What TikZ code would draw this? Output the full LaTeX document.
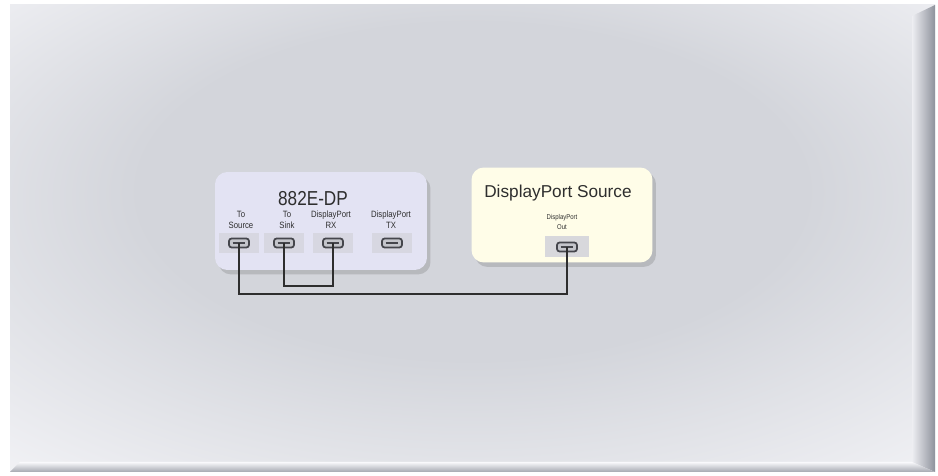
\documentclass[tikz,border=0pt]{standalone}
\usepackage{fontspec}
\setmainfont{Liberation Sans}
\newfontfamily\narrowsans[FakeStretch=0.85]{Liberation Sans}
\usetikzlibrary{positioning,shadows}
\definecolor{panelmid}{HTML}{D3D5DB}
\definecolor{paneledge}{HTML}{F9F9FC}
\definecolor{rimdark}{HTML}{8E929C}
\definecolor{lav}{HTML}{E3E3F3}
\definecolor{cream}{HTML}{FFFDE8}
\definecolor{bandlav}{HTML}{D7D7E1}
\definecolor{bandcream}{HTML}{D8D8DC}
\definecolor{portfill}{HTML}{C4C5CB}
\definecolor{portline}{HTML}{45464C}
\definecolor{ink}{HTML}{2E2E2E}
\colorlet{wirecol}{ink}
\pgfdeclareradialshading{panelglow}{\pgfpoint{0bp}{8bp}}{%
  color(0bp)=(panelmid); color(18bp)=(panelmid); color(42bp)=(paneledge); color(50bp)=(paneledge)}
\tikzset{
  devbox/.style={rounded corners=7pt,inner sep=0pt,
    drop shadow={shadow xshift=2pt,shadow yshift=-2.5pt,opacity=.25,fill=black!60}},
  lbl/.style={align=center,inner sep=0pt,text=ink,font=\narrowsans\fontsize{5.2}{6.2}\selectfont},
  port/.style={draw=portline,line width=1pt,fill=portfill,rounded corners=1.5pt,
    minimum width=0.4cm,minimum height=0.18cm,inner sep=0pt,
    path picture={\draw[portline,line width=1.2pt]
      ([xshift=2pt]path picture bounding box.west) --
      ([xshift=-2pt]path picture bounding box.east);}},
  wire/.style={wirecol,line width=0.75pt}
}
\begin{document}
\begin{tikzpicture}[x=0.02cm,y=-0.02cm]
    \useasboundingbox (0,0) rectangle (938,476);
    % backdrop panel with its rim
    \shade[shading=panelglow] (10,5) rectangle (935,472);
    \shade[left color=paneledge!70!panelmid,right color=rimdark]
      (912,16) -- (935,5) -- (935,472) -- (912,462) -- cycle;
    \shade[top color=paneledge,bottom color=rimdark!80]
      (10,472) -- (20,462) -- (912,462) -- (935,472) -- cycle;
    % the two devices
    \node[devbox,fill=lav,minimum width=4.24cm,minimum height=1.96cm] (dev) at (321,221) {};
    \node[devbox,fill=cream,minimum width=3.62cm,minimum height=1.9cm] (src) at (562,215) {};
    \node[text=ink,font=\narrowsans\fontsize{11.5}{13}\selectfont,inner sep=0pt] (devname) at (313,199) {882E-DP};
    \node[text=ink,font=\fontsize{9.8}{12}\selectfont,inner sep=0pt] (srcname) at (558,193) {DisplayPort Source};
    \node[lbl] (lS) at (241,220) {To\\Source};
    \node[lbl] (lK) at (287,220) {To\\Sink};
    \node[lbl] (lR) at (331,220) {DisplayPort\\RX};
    \node[lbl] (lT) at (391,220) {DisplayPort\\TX};
    \node[lbl,font=\narrowsans\fontsize{4}{5.4}\selectfont] (lO) at (562,222) {DisplayPort\\Out};
    % port bands
    \foreach \px in {239,284,333,392}
      \fill[bandlav] (\px-20,233) rectangle (\px+20,253);
    \fill[bandcream] (545,236) rectangle (589,257);
    \node[port] (pS) at (239,243) {};
    \node[port] (pK) at (284,243) {};
    \node[port] (pR) at (333,243) {};
    \node[port] (pT) at (392,243) {};
    \node[port] (pO) at (567,247) {};
    % cables
    \draw[wire] (pS.center) -- ++(0,51) -| (pO.center);
    \draw[wire] (pK.center) -- ++(0,43) -| (pR.center);
  \end{tikzpicture}
\end{document}
